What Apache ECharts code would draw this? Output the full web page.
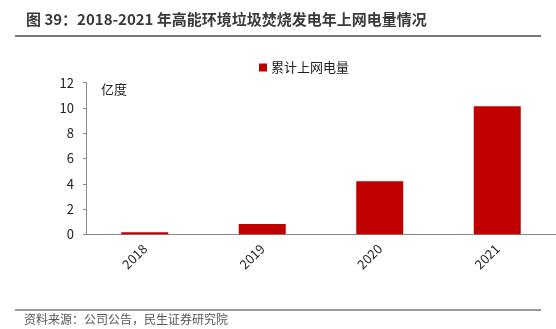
<!DOCTYPE html>
<html><head><meta charset="utf-8">
<script src="https://cdn.jsdelivr.net/npm/echarts@6/dist/echarts.min.js"></script>
<style>html,body{margin:0;padding:0;background:#fff}#c{width:556px;height:329px}</style>
</head><body><div id="c"></div>
<script>
const categories = ['2018', '2019', '2020', '2021'];
const values = [0.17, 0.82, 4.2, 10.13];
const yTicks = [0, 2, 4, 6, 8, 10, 12];
const seriesName = '累计上网电量';
const unitLabel = '亿度';
const titleText = '图 39：2018-2021 年高能环境垃圾焚烧发电年上网电量情况';
const sourceText = '资料来源：公司公告，民生证券研究院';

const font = '"Noto Sans CJK SC", "Microsoft YaHei", sans-serif';
const chart = echarts.init(document.getElementById('c'));
chart.setOption({
  animation: false,
  textStyle: { fontFamily: font },
  title: {
    text: titleText, left: 21, top: 7,
    textStyle: { fontSize: 15, fontWeight: 'bold', color: '#3a3a3a', fontFamily: font }
  },
  graphic: [
    { type: 'line', shape: { x1: 15, y1: 36, x2: 541, y2: 36 }, style: { stroke: '#777', lineWidth: 2 } },
    { type: 'line', shape: { x1: 15, y1: 310, x2: 541, y2: 310 }, style: { stroke: '#777', lineWidth: 1.5 } },
    { type: 'text', left: 24, top: 313, style: { text: sourceText, fontSize: 12, fill: '#555', fontFamily: font } },
    { type: 'text', left: 101, top: 83, style: { text: unitLabel, fontSize: 13, fill: '#222', fontFamily: font } }
  ],
  legend: {
    data: [seriesName], top: 56, left: 254, itemWidth: 8, itemHeight: 8, itemGap: 4, icon: 'rect',
    textStyle: { fontSize: 13, color: '#222', fontFamily: font, padding: [0, 0, 0, -1] }
  },
  grid: { left: 86, right: -1, top: 82.7, bottom: 94.7, containLabel: false },
  xAxis: {
    type: 'category', data: categories,
    axisLine: { lineStyle: { color: '#888' } },
    axisTick: { inside: true, length: 5, lineStyle: { color: '#888' } },
    axisLabel: { rotate: 45, fontSize: 13, color: '#222', margin: 12, fontFamily: font }
  },
  yAxis: {
    type: 'value', min: yTicks[0], max: yTicks[yTicks.length - 1], interval: 2,
    splitLine: { show: false },
    axisLine: { show: true, lineStyle: { color: '#888' } },
    axisTick: { show: true, length: 3, lineStyle: { color: '#888' } },
    axisLabel: { fontSize: 13, color: '#222', margin: 12, fontFamily: font }
  },
  series: [{
    name: seriesName, type: 'bar', data: values, barWidth: '40%',
    itemStyle: { color: '#c00000' }
  }]
});
</script></body></html>
